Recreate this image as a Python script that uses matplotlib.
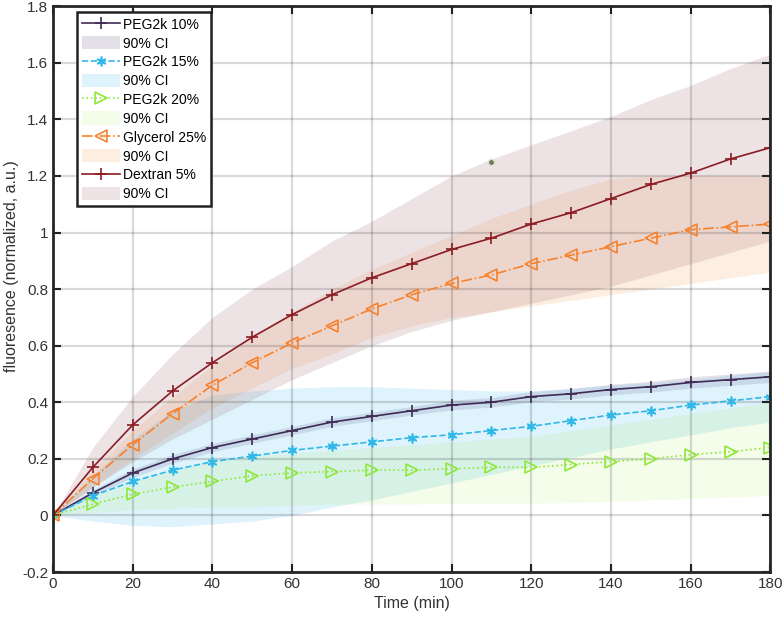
import numpy as np
import matplotlib
matplotlib.use('Agg')
import matplotlib.pyplot as plt
from matplotlib.patches import Patch

plt.rcParams['font.family'] = ['Liberation Sans', 'DejaVu Sans']

# 时间点 (min)
t = [0, 10, 20, 30, 40, 50, 60, 70, 80, 90, 100, 110, 120, 130, 140, 150, 160, 170, 180]

# 各组均值
peg10 = [0, 0.08, 0.15, 0.20, 0.24, 0.27, 0.30, 0.33, 0.35, 0.37, 0.39, 0.40, 0.42, 0.43, 0.445, 0.455, 0.47, 0.48, 0.49]
peg15 = [0, 0.07, 0.12, 0.16, 0.19, 0.21, 0.23, 0.245, 0.26, 0.275, 0.285, 0.30, 0.315, 0.335, 0.355, 0.37, 0.39, 0.405, 0.42]
peg20 = [0, 0.04, 0.075, 0.10, 0.12, 0.14, 0.15, 0.155, 0.16, 0.16, 0.165, 0.17, 0.17, 0.18, 0.19, 0.20, 0.215, 0.225, 0.24]
glyc25 = [0, 0.13, 0.25, 0.36, 0.46, 0.54, 0.61, 0.67, 0.73, 0.78, 0.82, 0.85, 0.89, 0.92, 0.95, 0.98, 1.01, 1.02, 1.03]
dex5 = [0, 0.17, 0.32, 0.44, 0.54, 0.63, 0.71, 0.78, 0.84, 0.89, 0.94, 0.98, 1.03, 1.07, 1.12, 1.17, 1.21, 1.26, 1.30]

# 90% 置信区间 (下限/上限)
peg10_lo = [0, 0.07, 0.135, 0.185, 0.225, 0.255, 0.285, 0.315, 0.335, 0.355, 0.373, 0.383, 0.402, 0.412, 0.426, 0.436, 0.45, 0.46, 0.47]
peg10_hi = [0, 0.09, 0.165, 0.215, 0.255, 0.285, 0.315, 0.345, 0.365, 0.385, 0.407, 0.417, 0.438, 0.448, 0.464, 0.474, 0.49, 0.50, 0.51]
peg15_lo = [0, -0.02, -0.035, -0.04, -0.03, -0.02, 0.0, 0.03, 0.055, 0.085, 0.115, 0.145, 0.175, 0.205, 0.235, 0.26, 0.285, 0.31, 0.33]
peg15_hi = [0, 0.14, 0.27, 0.37, 0.425, 0.44, 0.45, 0.455, 0.455, 0.45, 0.445, 0.44, 0.44, 0.45, 0.46, 0.47, 0.48, 0.495, 0.51]
peg20_lo = [0, 0.01, 0.02, 0.025, 0.03, 0.03, 0.035, 0.04, 0.04, 0.04, 0.042, 0.044, 0.044, 0.045, 0.05, 0.055, 0.06, 0.065, 0.07]
peg20_hi = [0, 0.07, 0.12, 0.16, 0.195, 0.21, 0.22, 0.23, 0.24, 0.25, 0.26, 0.27, 0.28, 0.30, 0.32, 0.34, 0.36, 0.38, 0.40]
glyc25_lo = [0, 0.10, 0.20, 0.29, 0.38, 0.45, 0.52, 0.57, 0.63, 0.67, 0.70, 0.72, 0.74, 0.76, 0.78, 0.80, 0.82, 0.84, 0.86]
glyc25_hi = [0, 0.16, 0.30, 0.42, 0.53, 0.63, 0.72, 0.80, 0.87, 0.93, 0.99, 1.05, 1.10, 1.15, 1.19, 1.20, 1.20, 1.20, 1.20]
dex5_lo = [0, 0.10, 0.19, 0.27, 0.34, 0.41, 0.48, 0.54, 0.60, 0.65, 0.69, 0.72, 0.75, 0.78, 0.81, 0.85, 0.89, 0.93, 0.97]
dex5_hi = [0, 0.24, 0.42, 0.57, 0.70, 0.80, 0.88, 0.97, 1.04, 1.12, 1.20, 1.26, 1.31, 1.36, 1.41, 1.47, 1.52, 1.58, 1.63]

# 离群点
outlier_t = [110]
outlier_y = [1.25]

labels = ['PEG2k 10%', 'PEG2k 15%', 'PEG2k 20%', 'Glycerol 25%', 'Dextran 5%']
means = [peg10, peg15, peg20, glyc25, dex5]
lows = [peg10_lo, peg15_lo, peg20_lo, glyc25_lo, dex5_lo]
highs = [peg10_hi, peg15_hi, peg20_hi, glyc25_hi, dex5_hi]
line_colors = ['#3f2b55', '#2fb8e8', '#8ee83a', '#f7822e', '#8a1c24']
band_colors = ['#4a3366', '#4dbeee', '#99e633', '#f28026', '#995a60']
band_alpha = [0.15, 0.18, 0.10, 0.13, 0.17]
styles = ['-', '--', ':', '-.', '-']
markers = ['+', (6, 2, 0), '>', '<', '+']
msizes = [8, 7, 8, 8, 8]

fig = plt.figure(figsize=(7.84, 6.2), dpi=100)
ax = fig.add_axes([0.0676, 0.0774, 0.915, 0.9126])

handles = []
for i in range(5):
    ax.fill_between(t, lows[i], highs[i], color=band_colors[i], alpha=band_alpha[i], linewidth=0)
    hollow = markers[i] in ('>', '<')
    ln, = ax.plot(t, means[i], linestyle=styles[i], color=line_colors[i], linewidth=1.2,
                  marker=markers[i], markersize=msizes[i],
                  markerfacecolor='none' if hollow else line_colors[i],
                  markeredgewidth=1.2)
    handles.append(ln)
    handles.append(Patch(facecolor=band_colors[i], alpha=band_alpha[i], edgecolor='none'))

ax.plot(outlier_t, outlier_y, 'o', color='#6f7a62', markersize=4.5,
        markeredgecolor='#e0e2c8', markeredgewidth=1)

leg_labels = []
for lab in labels:
    leg_labels += [lab, '90% CI']
leg = ax.legend(handles, leg_labels, loc='upper left', bbox_to_anchor=(0.034, 0.989),
                fontsize=10, fancybox=False, framealpha=1, edgecolor='#222222',
                handlelength=2.7, handleheight=1.1, labelspacing=0.32, borderpad=0.35,
                handletextpad=0.25, borderaxespad=0)
leg.get_frame().set_linewidth(1.8)

ax.set_xlim(0, 180)
ax.set_ylim(-0.2, 1.8)
ax.set_xticks(np.arange(0, 181, 20))
yt = np.round(np.arange(-0.2, 1.81, 0.2), 1)
ax.set_yticks(yt)
ax.set_yticklabels([f'{v:g}' for v in yt])
ax.tick_params(direction='in', top=True, right=True, length=6, width=1.5,
               labelsize=11, colors='#222222', labelcolor='#333333')
for s in ax.spines.values():
    s.set_linewidth(2)
    s.set_color('#262626')

ax.set_axisbelow('line')
ax.grid(True, color='#000000', alpha=0.15, linewidth=1.6)

ax.set_xlabel('Time (min)', fontsize=11.5, color='#333333', labelpad=4)
ax.set_ylabel('fluoresence (normalized, a.u.)', fontsize=11.5, color='#333333')
ax.yaxis.set_label_coords(-0.048, 0.54)

fig.savefig('out.png', dpi=100)
